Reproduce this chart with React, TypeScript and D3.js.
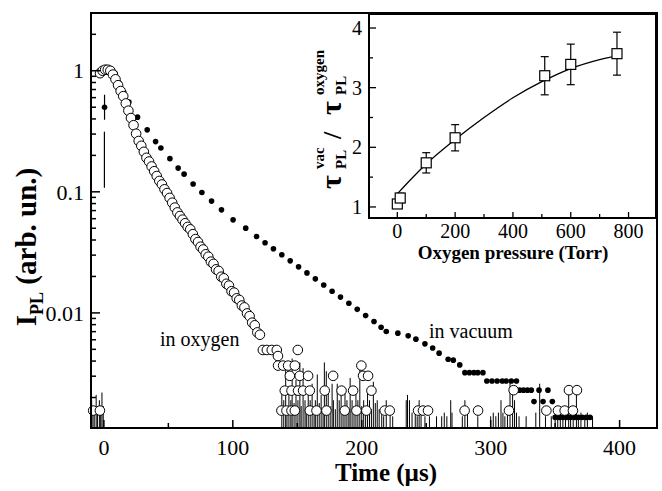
import React from 'react';
import * as d3 from 'd3';

const W = 662;
const H = 491;

// PL decay in vacuum (filled dots): [time us, intensity]
const vacuum: [number, number][] = [
  [3, 1.0], [5.5, 1.0], [8.5, 0.957], [11.9, 0.791], [15.5, 0.66], [19.4, 0.551], [26.1, 0.414],
  [33.6, 0.325], [40.1, 0.26], [44.2, 0.23], [51.2, 0.188], [57.6, 0.157], [62.2, 0.14],
  [69.2, 0.116], [76, 0.0987], [83.5, 0.0838], [91.2, 0.071], [100.2, 0.0587], [110, 0.0501],
  [118.4, 0.0427], [125, 0.038], [131.5, 0.0339], [138, 0.0302], [144.5, 0.0269], [151, 0.024],
  [157.5, 0.0214], [164, 0.0191], [170.5, 0.017], [177, 0.0151], [183.5, 0.0135], [190, 0.012],
  [196.5, 0.0107], [203, 0.0095], [209.5, 0.0085], [215, 0.0076], [219, 0.00702], [228, 0.0068],
  [236, 0.00646], [242, 0.00607], [249, 0.00555], [255, 0.00513], [260, 0.00465], [267, 0.00414],
  [271, 0.00407], [276, 0.00372], [280, 0.00321], [283.5, 0.00321], [287, 0.00321], [290, 0.00321],
  [294, 0.00321], [297, 0.00274], [301, 0.00274], [305, 0.00274], [309, 0.00274], [312, 0.00274],
  [316, 0.00274], [320, 0.00274], [322.5, 0.0023], [325.5, 0.0023], [328.5, 0.0023], [331.5, 0.0023],
  [337.5, 0.0023], [344.4, 0.0023], [333.6, 0.00185], [340.6, 0.00185], [347.8, 0.00185],
  [350, 0.00137], [353, 0.00137], [356, 0.00137], [359, 0.00137], [362, 0.00137], [365, 0.00137],
  [368, 0.00137], [371, 0.00137], [374, 0.00137], [377, 0.00137],
];

// the first vacuum point and its bars
const vacFirst: [number, number] = [0.5, 0.5];
const vacFirstBars: [number, number, number][] = [[0.5, 0.634, 0.394], [0.4, 0.314, 0.108]];

// PL decay in oxygen (open circles): [time us, intensity]
const oxygen: [number, number][] = [
  [-3, 0.955], [-1, 1.0], [1, 1.02], [3, 1.02], [5, 1.0], [7, 0.93], [9, 0.85], [11, 0.76],
  [13, 0.68], [15, 0.617], [17, 0.537], [19, 0.468], [21, 0.407], [23, 0.355], [25, 0.302],
  [27, 0.263], [29, 0.24], [31, 0.214], [33, 0.191], [35, 0.178], [37, 0.162], [39, 0.148],
  [41, 0.135], [43, 0.123], [45, 0.115], [47, 0.105], [49, 0.0977], [51, 0.0891], [53, 0.0813],
  [55, 0.0741], [57, 0.0676], [59, 0.0631], [61, 0.0589], [63, 0.055], [65, 0.0513], [67, 0.049],
  [69, 0.0447], [71, 0.0407], [73, 0.0385], [75, 0.0352], [77, 0.0334], [79, 0.0305], [81, 0.0291],
  [83, 0.0265], [85, 0.0254], [87, 0.0229], [89, 0.0222], [91, 0.0199], [93, 0.0193], [95, 0.0174],
  [97, 0.0168], [99, 0.0151], [101, 0.0147], [103, 0.0132], [105, 0.0128], [107, 0.0115],
  [109, 0.0111], [111, 0.0099], [113, 0.0094], [115, 0.0083], [117, 0.0079], [119, 0.0069],
  [121, 0.0066], [123.3, 0.00494], [126.4, 0.00494], [130.2, 0.00494], [134.1, 0.00494],
  [150.4, 0.00494], [135, 0.0044], [135.1, 0.00367], [139, 0.00367], [142.9, 0.00367],
  [148.1, 0.00367], [199.7, 0.00367], [144.2, 0.00302], [151.9, 0.00302], [158.4, 0.00302],
  [177.8, 0.00302], [201, 0.00302], [204.9, 0.00302], [140.3, 0.00228], [145.5, 0.00228],
  [150.6, 0.00228], [154.5, 0.00228], [159.7, 0.00228], [171.3, 0.00228], [184.3, 0.00228],
  [193.3, 0.00228], [207.5, 0.00228], [317.8, 0.0023], [360.7, 0.0023], [366.9, 0.0023],
  [-8.3, 0.00156], [-3.1, 0.00156], [137.7, 0.00156], [141.6, 0.00156], [145.5, 0.00156],
  [148.1, 0.00156], [159.7, 0.00156], [164.9, 0.00156], [172.6, 0.00156], [186.8, 0.00156],
  [195.9, 0.00156], [203.6, 0.00156], [217.8, 0.00156], [221.7, 0.00156], [243.7, 0.00156],
  [247.5, 0.00156], [251.4, 0.00156], [279.8, 0.00156], [290.2, 0.00156], [314.2, 0.00156],
  [343.2, 0.00156], [352.2, 0.00156], [357.4, 0.00156], [363.8, 0.00156],
];

// vertical noise lines from the bottom axis: [time us, top intensity]
const noise: [number, number][] = [
  [-9.5, 0.0019], [-8.5, 0.0017], [-7.5, 0.0015], [-6, 0.0021], [-5, 0.0016], [-3.5, 0.0019],
  [-2.5, 0.0015], [-1.5, 0.0022], [-0.5, 0.0017],
  [138, 0.0023], [139.5, 0.0019], [141, 0.0036], [142, 0.0017], [143.5, 0.0025], [145, 0.0019],
  [146, 0.0042], [147.5, 0.0018], [149, 0.0028], [150.5, 0.0019], [152, 0.0039], [153, 0.0017],
  [154.5, 0.0035], [156, 0.0019], [157, 0.0016], [158.5, 0.0022], [160, 0.0019], [161.5, 0.0026],
  [163, 0.0017], [164, 0.0019], [165.5, 0.0031], [167, 0.0018], [168.5, 0.0021], [170, 0.0016],
  [171, 0.0039], [172.5, 0.0033], [174, 0.0022], [175.5, 0.0017], [177, 0.0026], [178, 0.0019],
  [179.5, 0.0016], [181, 0.0026], [182.5, 0.0019], [184, 0.0021], [185.5, 0.0017], [187, 0.0024],
  [188.5, 0.0019], [190, 0.0016], [191, 0.0029], [192.5, 0.0019], [194, 0.0017], [195.5, 0.0022],
  [197, 0.0019], [198.5, 0.0034], [200, 0.0017], [201.5, 0.0019], [203, 0.0016], [204.5, 0.0023],
  [206, 0.0019], [207.5, 0.0016], [209, 0.0027], [210.5, 0.0018], [212, 0.0019], [213.5, 0.0016],
  [215.5, 0.0015], [217, 0.0014], [219, 0.0019], [222, 0.0015], [224, 0.0014],
  [234.5, 0.0019], [235.5, 0.0021], [237, 0.0019], [239, 0.0015], [241.5, 0.0015], [243, 0.0014],
  [244.5, 0.0019], [246, 0.0015], [249, 0.0014], [252.5, 0.0014], [258, 0.0014], [262, 0.0014],
  [264, 0.0015], [266, 0.0014], [269, 0.0019], [270, 0.0015], [278, 0.0014], [280, 0.0019],
  [282, 0.0015], [290, 0.0014], [300, 0.0014], [302, 0.0015], [304, 0.0014], [306, 0.0015],
  [308, 0.0019], [309.5, 0.0015], [311, 0.0014], [313, 0.0015], [315, 0.0027], [317, 0.0021],
  [318.5, 0.0019], [320, 0.0015], [322, 0.0014], [327.5, 0.0014], [335, 0.0015], [338, 0.0026],
  [342.5, 0.0014], [347, 0.0014], [350, 0.0015], [352, 0.0014], [354, 0.0015], [356, 0.0014],
  [358, 0.0015], [360.5, 0.0023], [362, 0.0014], [364, 0.0015], [366.5, 0.0023], [368, 0.0014],
  [370, 0.0015], [373, 0.0014], [375, 0.0015], [379, 0.0014],
];

const xTicks = [0, 100, 200, 300, 400];
const xMinor = [50, 150, 250, 350];
const yTicks = [0.01, 0.1, 1];
const yTickLabels = ['0.01', '0.1', '1'];

// inset: lifetime ratio vs oxygen pressure
const pressure = [0, 10, 100, 200, 510, 600, 760];
const ratio = [1.05, 1.15, 1.74, 2.16, 3.2, 3.39, 3.57];
const ratioErr = [0.07, 0.08, 0.17, 0.22, 0.32, 0.34, 0.36];
const fitP = [0, 100, 200, 300, 400, 500, 600, 700, 770];
const fitR = [1.22, 1.72, 2.13, 2.5, 2.83, 3.1, 3.32, 3.47, 3.54];
const insetXTicks = [0, 200, 400, 600, 800];
const insetYTicks = [1, 2, 3, 4];

const serif = '"Liberation Serif", "Times New Roman", serif';

export default function App() {
  const L = 91, R = 657, T = 13, B = 428;
  const x = d3.scaleLinear().domain([-10, 429]).range([L, R]);
  const y = d3.scaleLog().domain([0.00112, 3]).range([B, T]);

  const yMinor: number[] = [];
  [0.001, 0.01, 0.1, 1].forEach((d) => {
    for (let k = 2; k <= 9; k++) {
      const v = d * k;
      if (v > 0.00112 && v < 3) yMinor.push(v);
    }
  });

  const iL = 369, iR = 656, iT = 14, iB = 218;
  const ix = d3.scaleLinear().domain([-98, 895]).range([iL, iR]);
  const iy = d3.scaleLinear().domain([0.815, 4.235]).range([iB, iT]);
  const fitLine = d3.line<number>().x((d, i) => ix(fitP[i])).y((d) => iy(d)).curve(d3.curveCatmullRom);

  return (
    <svg width={W} height={H} style={{ position: 'absolute', left: 0, top: 0, background: '#fff' }}
      fontFamily={serif}>
      <rect x={0} y={0} width={W} height={H} fill="#fff" />

      {/* noise lines */}
      <g stroke="#000" strokeWidth={1}>
        {noise.map(([t, v], i) => (
          <line key={i} x1={x(t)} x2={x(t)} y1={B} y2={y(v)} />
        ))}
      </g>

      {/* first vacuum point with bars */}
      <g stroke="#000" strokeWidth={1.2}>
        {vacFirstBars.map(([t, a, b], i) => (
          <line key={i} x1={x(t)} x2={x(t)} y1={y(a)} y2={y(b)} />
        ))}
      </g>
      <circle cx={x(vacFirst[0])} cy={y(vacFirst[1])} r={2.8} fill="#000" />

      {/* vacuum dots */}
      <g fill="#000">
        {vacuum.map(([t, v], i) => (
          <circle key={i} cx={x(t)} cy={y(v)} r={2.8} />
        ))}
      </g>

      {/* oxygen circles */}
      <g fill="#fff" stroke="#000" strokeWidth={1}>
        {oxygen.map(([t, v], i) => (
          <circle key={i} cx={x(t)} cy={y(v)} r={4.8} />
        ))}
      </g>

      <text x={160} y={346} fontSize={20}>in oxygen</text>
      <text x={429} y={338} fontSize={20}>in vacuum</text>

      {/* main frame and ticks */}
      <rect x={L} y={T} width={R - L} height={B - T} fill="none" stroke="#000" strokeWidth={2} />
      <g stroke="#000" strokeWidth={1.5}>
        {xTicks.map((t) => <line key={t} x1={x(t)} x2={x(t)} y1={B} y2={B - 8} />)}
        {xMinor.map((t) => <line key={t} x1={x(t)} x2={x(t)} y1={B} y2={B - 5} />)}
        {yTicks.map((t) => <line key={t} x1={L} x2={L + 9} y1={y(t)} y2={y(t)} />)}
        {yMinor.map((t) => <line key={t} x1={L} x2={L + 5} y1={y(t)} y2={y(t)} />)}
      </g>
      <g fontSize={22}>
        {xTicks.map((t) => (
          <text key={t} x={x(t)} y={455} textAnchor="middle">{t}</text>
        ))}
        {yTicks.map((t, i) => (
          <text key={t} x={84} y={y(t)} dy="0.35em" textAnchor="end">{yTickLabels[i]}</text>
        ))}
      </g>
      <text x={386} y={481} fontSize={25} fontWeight="bold" textAnchor="middle">Time (µs)</text>
      <text transform="translate(36,247) rotate(-90)" fontSize={29} fontWeight="bold" textAnchor="middle">
        I<tspan fontSize={18} dy={7}>PL</tspan><tspan dy={-7}> (arb. un.)</tspan>
      </text>

      {/* inset */}
      <rect x={iL} y={iT} width={iR - iL} height={iB - iT} fill="#fff" stroke="#000" strokeWidth={2} />
      <path d={fitLine(fitR) || ''} fill="none" stroke="#000" strokeWidth={1.3} />
      <g stroke="#000" strokeWidth={1.2}>
        {pressure.map((p, i) => (
          <g key={i}>
            <line x1={ix(p)} x2={ix(p)} y1={iy(ratio[i] - ratioErr[i])} y2={iy(ratio[i] + ratioErr[i])} />
            <line x1={ix(p) - 4} x2={ix(p) + 4} y1={iy(ratio[i] - ratioErr[i])} y2={iy(ratio[i] - ratioErr[i])} />
            <line x1={ix(p) - 4} x2={ix(p) + 4} y1={iy(ratio[i] + ratioErr[i])} y2={iy(ratio[i] + ratioErr[i])} />
          </g>
        ))}
      </g>
      <g fill="#fff" stroke="#000" strokeWidth={1.2}>
        {pressure.map((p, i) => (
          <rect key={i} x={ix(p) - 5} y={iy(ratio[i]) - 5} width={10} height={10} />
        ))}
      </g>
      <g stroke="#000" strokeWidth={1.3}>
        {insetXTicks.map((t) => <line key={t} x1={ix(t)} x2={ix(t)} y1={iB} y2={iB - 6} />)}
        {[100, 300, 500, 700].map((t) => <line key={t} x1={ix(t)} x2={ix(t)} y1={iB} y2={iB - 4} />)}
        {insetYTicks.map((t) => <line key={t} x1={iL} x2={iL + 7} y1={iy(t)} y2={iy(t)} />)}
        {[1.5, 2.5, 3.5].map((t) => <line key={t} x1={iL} x2={iL + 4} y1={iy(t)} y2={iy(t)} />)}
      </g>
      <g fontSize={20}>
        {insetXTicks.map((t) => (
          <text key={t} x={ix(t)} y={238} textAnchor="middle">{t}</text>
        ))}
        {insetYTicks.map((t) => (
          <text key={t} x={362} y={iy(t)} dy="0.35em" textAnchor="end">{t}</text>
        ))}
      </g>
      <text x={513} y={259} fontSize={19} fontWeight="bold" textAnchor="middle">Oxygen pressure (Torr)</text>
      <g transform="translate(341,105) rotate(-90)" fontWeight="bold">
        <text x={-84} y={0} fontSize={30}>τ</text>
        <text x={-64} y={5} fontSize={15}>PL</text>
        <text x={-64} y={-17} fontSize={15}>vac</text>
        <text x={-34} y={0} fontSize={26}>/</text>
        <text x={-10} y={0} fontSize={30}>τ</text>
        <text x={10} y={5} fontSize={15}>PL</text>
        <text x={10} y={-17} fontSize={15}>oxygen</text>
      </g>
    </svg>
  );
}
